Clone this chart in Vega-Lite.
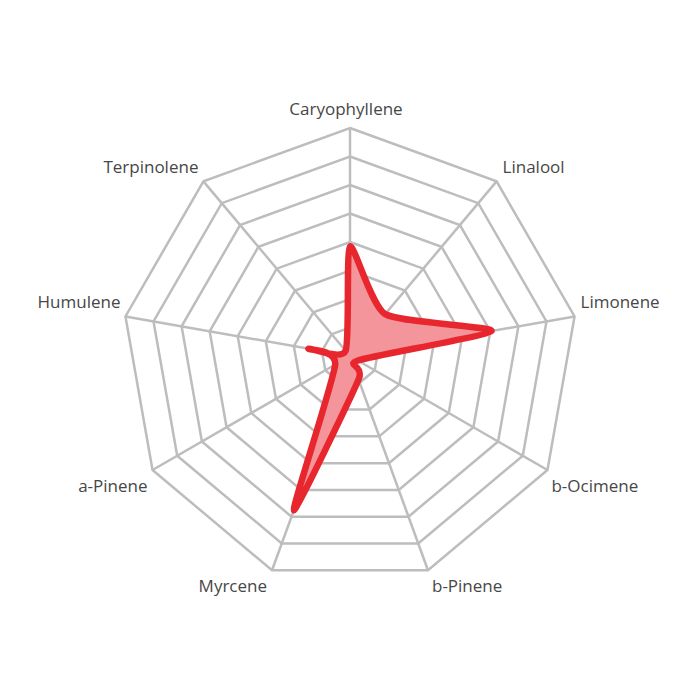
{
  "$schema": "https://vega.github.io/schema/vega-lite/v6.json",
  "width": 700,
  "height": 700,
  "autosize": "none",
  "padding": 0,
  "background": "white",
  "config": {"view": {"stroke": null}, "text": {"font": "Open Sans", "fontSize": 17, "fontWeight": 400, "fill": "#474747"}},
  "datasets": {
    "terpenes": [
      {"key": "Caryophyllene", "angle": 0, "value": 0.48, "levels": [1, 2, 3, 4, 5, 6, 7, 8]},
      {"key": "Linalool", "angle": 40, "value": 0.24, "levels": [1, 2, 3, 4, 5, 6, 7, 8]},
      {"key": "Limonene", "angle": 80, "value": 0.63, "levels": [1, 2, 3, 4, 5, 6, 7, 8]},
      {"key": "b-Ocimene", "angle": 120, "value": 0.04, "levels": [1, 2, 3, 4, 5, 6, 7, 8]},
      {"key": "b-Pinene", "angle": 160, "value": 0.11, "levels": [1, 2, 3, 4, 5, 6, 7, 8]},
      {"key": "Myrcene", "angle": 200, "value": 0.72, "levels": [1, 2, 3, 4, 5, 6, 7, 8]},
      {"key": "a-Pinene", "angle": 240, "value": 0.075, "levels": [1, 2, 3, 4, 5, 6, 7, 8]},
      {"key": "Humulene", "angle": 280, "value": 0.185, "levels": [1, 2, 3, 4, 5, 6, 7, 8]},
      {"key": "Terpinolene", "angle": 320, "value": 0.03, "levels": [1, 2, 3, 4, 5, 6, 7, 8]}
    ]
  },
  "data": {"name": "terpenes"},
  "transform": [
    {"calculate": "datum.angle * PI / 180", "as": "rad"},
    {"calculate": "sin(datum.rad)", "as": "vx"},
    {"calculate": "cos(datum.rad)", "as": "vy"},
    {"calculate": "datum.value * datum.vx", "as": "px"},
    {"calculate": "datum.value * datum.vy", "as": "py"}
  ],
  "layer": [
    {
      "transform": [
        {"flatten": ["levels"]},
        {"calculate": "datum.levels / 8 * datum.vx", "as": "gx"},
        {"calculate": "datum.levels / 8 * datum.vy", "as": "gy"}
      ],
      "mark": {"type": "line", "interpolate": "linear-closed", "stroke": "#bdbdbd", "strokeWidth": 2.5, "strokeJoin": "miter"},
      "encoding": {
        "x": {"field": "gx", "type": "quantitative", "scale": {"domain": [-1.535, 1.535], "nice": false, "zero": false}, "axis": null},
        "y": {"field": "gy", "type": "quantitative", "scale": {"domain": [-1.5087, 1.5614], "nice": false, "zero": false}, "axis": null},
        "detail": {"field": "levels", "type": "nominal"},
        "order": {"field": "angle", "type": "quantitative"}
      }
    },
    {
      "mark": {"type": "rule", "stroke": "#bdbdbd", "strokeWidth": 2.5},
      "encoding": {
        "x": {"field": "vx", "type": "quantitative", "scale": {"domain": [-1.535, 1.535], "nice": false, "zero": false}, "axis": null},
        "y": {"field": "vy", "type": "quantitative", "scale": {"domain": [-1.5087, 1.5614], "nice": false, "zero": false}, "axis": null},
        "x2": {"datum": 0},
        "y2": {"datum": 0}
      }
    },
    {
      "mark": {"type": "line", "interpolate": "cardinal-closed", "tension": 0.4, "fill": "#f3959a", "stroke": "#e8262e", "strokeWidth": 6.5, "strokeJoin": "round"},
      "encoding": {
        "x": {"field": "px", "type": "quantitative", "scale": {"domain": [-1.535, 1.535], "nice": false, "zero": false}, "axis": null},
        "y": {"field": "py", "type": "quantitative", "scale": {"domain": [-1.5087, 1.5614], "nice": false, "zero": false}, "axis": null},
        "order": {"field": "angle", "type": "quantitative"}
      }
    },
    {
      "transform": [{"filter": {"field": "key", "oneOf": ["Caryophyllene"]}}],
      "mark": {"type": "text", "align": "center", "baseline": "middle", "dx": -4, "dy": -18},
      "encoding": {
        "x": {"field": "vx", "type": "quantitative", "scale": {"domain": [-1.535, 1.535], "nice": false, "zero": false}, "axis": null},
        "y": {"field": "vy", "type": "quantitative", "scale": {"domain": [-1.5087, 1.5614], "nice": false, "zero": false}, "axis": null},
        "text": {"field": "key"}
      }
    },
    {
      "transform": [{"filter": {"field": "key", "oneOf": ["Linalool", "Limonene"]}}],
      "mark": {"type": "text", "align": "left", "baseline": "middle", "dx": 6, "dy": -13},
      "encoding": {
        "x": {"field": "vx", "type": "quantitative", "scale": {"domain": [-1.535, 1.535], "nice": false, "zero": false}, "axis": null},
        "y": {"field": "vy", "type": "quantitative", "scale": {"domain": [-1.5087, 1.5614], "nice": false, "zero": false}, "axis": null},
        "text": {"field": "key"}
      }
    },
    {
      "transform": [{"filter": {"field": "key", "oneOf": ["b-Ocimene", "b-Pinene"]}}],
      "mark": {"type": "text", "align": "left", "baseline": "middle", "dx": 4, "dy": 17},
      "encoding": {
        "x": {"field": "vx", "type": "quantitative", "scale": {"domain": [-1.535, 1.535], "nice": false, "zero": false}, "axis": null},
        "y": {"field": "vy", "type": "quantitative", "scale": {"domain": [-1.5087, 1.5614], "nice": false, "zero": false}, "axis": null},
        "text": {"field": "key"}
      }
    },
    {
      "transform": [{"filter": {"field": "key", "oneOf": ["Terpinolene", "Humulene"]}}],
      "mark": {"type": "text", "align": "right", "baseline": "middle", "dx": -5, "dy": -13},
      "encoding": {
        "x": {"field": "vx", "type": "quantitative", "scale": {"domain": [-1.535, 1.535], "nice": false, "zero": false}, "axis": null},
        "y": {"field": "vy", "type": "quantitative", "scale": {"domain": [-1.5087, 1.5614], "nice": false, "zero": false}, "axis": null},
        "text": {"field": "key"}
      }
    },
    {
      "transform": [{"filter": {"field": "key", "oneOf": ["a-Pinene", "Myrcene"]}}],
      "mark": {"type": "text", "align": "right", "baseline": "middle", "dx": -5, "dy": 17},
      "encoding": {
        "x": {"field": "vx", "type": "quantitative", "scale": {"domain": [-1.535, 1.535], "nice": false, "zero": false}, "axis": null},
        "y": {"field": "vy", "type": "quantitative", "scale": {"domain": [-1.5087, 1.5614], "nice": false, "zero": false}, "axis": null},
        "text": {"field": "key"}
      }
    }
  ]
}
